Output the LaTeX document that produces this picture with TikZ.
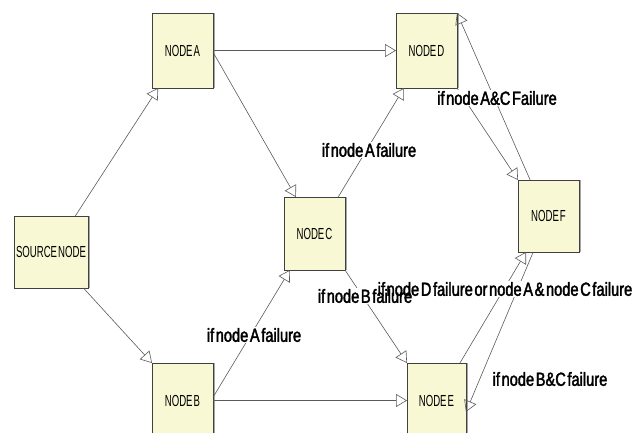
\documentclass[tikz,border=0pt]{standalone}
\usepackage{fontspec}
\usetikzlibrary{arrows.meta,shadows}
\newfontfamily\boxfont[FakeStretch=0.6,WordSpace=0.4]{Liberation Sans}
\newfontfamily\condfont[FakeStretch=0.77,WordSpace=0.4,FakeBold=2]{Liberation Sans}
\definecolor{boxfill}{RGB}{248,248,212}
\definecolor{boxline}{RGB}{64,64,64}
\definecolor{wire}{RGB}{90,90,90}
\pgfdeclarelayer{front}
\pgfsetlayers{main,front}
\tikzset{
	block/.style={draw=boxline, fill=boxfill, inner sep=0pt, outer sep=0pt,
		minimum width=61pt, minimum height=75pt,
		font=\boxfont\fontsize{16}{16}\selectfont,
		drop shadow={shadow xshift=1.6pt, shadow yshift=0pt, fill=gray!70, opacity=1}},
	link/.style={draw=wire, line width=0.6pt, -{Triangle[open, length=11pt, width=13pt]}},
	cond/.style={font=\condfont\fontsize{19}{19}\selectfont, inner sep=1pt},
}
\begin{document}
\begin{tikzpicture}[x=1pt, y=-1pt]
	\useasboundingbox (0,0) rectangle (635,432);
	% boxes
	\node[block, minimum width=74pt, minimum height=72pt] (src) at (51,252) {SOURCE NODE};
	\node[block] (A) at (182.5,50.5) {NODE A};
	\node[block] (B) at (182.5,400.5) {NODE B};
	\node[block, minimum height=73pt] (C) at (314.5,233.5) {NODE C};
	\node[block] (D) at (426.5,50.5) {NODE D};
	\node[block, minimum width=59pt] (E) at (436.5,400.5) {NODE E};
	\node[block, minimum height=72pt] (F) at (548.5,216) {NODE F};
	% conditions
	\begin{pgfonlayer}{front}
		\node[cond] (cCD) at (369,150) {if node A failure};
		\node[cond] (cBC) at (254,335) {if node A failure};
		\node[cond] (cCE) at (365,296) {if node B failure};
		\node[cond] (cFD) at (497,98) {if node A\&C Failure};
		\node[cond] (cEF) at (505,289) {if node D failure or node A \& node C failure};
		\node[cond] (cFE) at (550,379) {if node B\&C failure};
	\end{pgfonlayer}
	% links
	\foreach \from/\to in {src.56/A.237, src.-48/B.north west, A/D, A.-3/C.117,
		C.57/D.239, B.6/C.236, B/E, C.south east/E.north west,
		D.south east/F.north west, F.117/D.north east, E.58/F.238, F.247/E.-21}
		\draw[link] (\from) -- (\to);
	% gaps behind the conditions
	\foreach \c in {cCD,cBC,cCE,cFD,cEF}
		\fill[white] (\c.south west) rectangle (\c.north east);
\end{tikzpicture}
\end{document}
